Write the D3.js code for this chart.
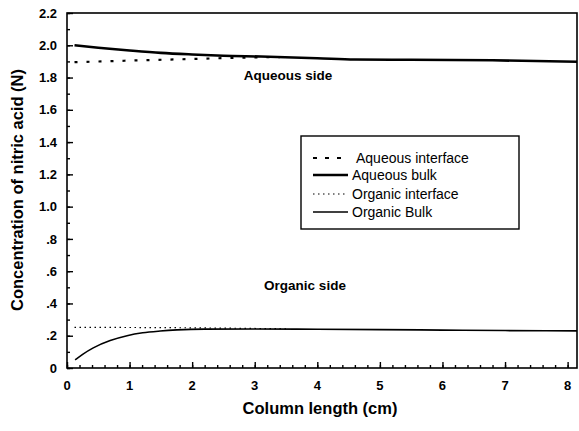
<!DOCTYPE html>
<html><head><meta charset="utf-8">
<script src="https://cdn.jsdelivr.net/npm/d3@7"></script>
<style>
body{margin:0;background:#fff;}
text{font-family:"Liberation Sans",Arial,sans-serif;fill:#000;}
</style></head>
<body><svg id="c" width="579" height="431"></svg>
<script>
// Data
const aqueousBulkX = [0.12, 0.5, 1.0, 1.5, 2.0, 2.5, 3.1, 4.0, 4.6, 5.5, 6.8, 8.15];
const aqueousBulkY = [2.0, 1.985, 1.968, 1.953, 1.943, 1.935, 1.93, 1.92, 1.912, 1.91, 1.907, 1.898];
const aqueousIntX = [0.12, 1.0, 2.0, 3.0, 3.4];
const aqueousIntY = [1.895, 1.905, 1.915, 1.925, 1.927];
const organicBulkX = [0.13, 0.25, 0.42, 0.69, 0.96, 1.21, 1.49, 1.76, 2.2, 3.0, 4.0, 5.0, 6.0, 7.0, 8.15];
const organicBulkY = [0.05, 0.085, 0.125, 0.17, 0.2, 0.218, 0.229, 0.236, 0.241, 0.242, 0.24, 0.238, 0.235, 0.232, 0.23];
const organicIntX = [0.12, 1.0, 2.0, 3.0, 3.5];
const organicIntY = [0.252, 0.251, 0.249, 0.245, 0.243];
const xTickValues = [0, 1, 2, 3, 4, 5, 6, 7, 8];
const yTickValues = [0, 0.2, 0.4, 0.6, 0.8, 1.0, 1.2, 1.4, 1.6, 1.8, 2.0, 2.2];
const yTickLabels = ["0", ".2", ".4", ".6", ".8", "1.0", "1.2", "1.4", "1.6", "1.8", "2.0", "2.2"];
const legendLabels = ["Aqueous interface", "Aqueous bulk", "Organic interface", "Organic Bulk"];

const svg = d3.select("#c");
const L = 67, R = 577, T = 13, B = 368;
const x = d3.scaleLinear().domain([0, 8.15]).range([L, R]);
const y = d3.scaleLinear().domain([0, 2.2]).range([B, T]);

const styles = [
  {w: 2.2, dash: "3,9"},
  {w: 2.6, dash: null},
  {w: 1.2, dash: "1.5,3.5"},
  {w: 1.6, dash: null}
];

// frame
svg.append("rect").attr("x", L).attr("y", T).attr("width", R - L).attr("height", B - T)
  .attr("fill", "none").attr("stroke", "#000").attr("stroke-width", 1.6);

// axes with inward ticks
const yMinor = d3.range(0, 2.21, 0.1);
const xMinor = d3.range(0, 8.01, 0.2);
const gy = svg.append("g").attr("transform", `translate(${L},0)`);
gy.call(d3.axisRight(y).tickValues(yMinor).tickSize(3).tickFormat(""));
gy.select(".domain").remove();
const gyM = svg.append("g").attr("transform", `translate(${L},0)`);
gyM.call(d3.axisRight(y).tickValues(yTickValues).tickSize(6).tickFormat(""));
gyM.select(".domain").remove();

const gx = svg.append("g").attr("transform", `translate(0,${B})`);
gx.call(d3.axisTop(x).tickValues(xMinor).tickSize(3).tickFormat(""));
gx.select(".domain").remove();
const gxM = svg.append("g").attr("transform", `translate(0,${B})`);
gxM.call(d3.axisTop(x).tickValues(xTickValues).tickSize(6).tickFormat(""));
gxM.select(".domain").remove();
svg.selectAll(".tick line").attr("stroke-width", 1.4);

// tick labels
svg.append("g").selectAll("text").data(yTickValues).join("text")
  .attr("x", 57).attr("y", d => y(d)).attr("dy", "0.36em")
  .attr("text-anchor", "end").attr("font-size", 13).attr("font-weight", "bold")
  .text((d, i) => yTickLabels[i]);
svg.append("g").selectAll("text").data(xTickValues).join("text")
  .attr("x", d => x(d)).attr("y", 390)
  .attr("text-anchor", "middle").attr("font-size", 13).attr("font-weight", "bold")
  .text(d => d);

// axis titles
svg.append("text").attr("x", 320).attr("y", 414).attr("text-anchor", "middle")
  .attr("font-size", 16.5).attr("font-weight", "bold").text("Column length (cm)");
svg.append("text").attr("transform", "translate(23,190) rotate(-90)").attr("text-anchor", "middle")
  .attr("font-size", 16.5).attr("font-weight", "bold").text("Concentration of nitric acid (N)");

// lines
const line = d3.line().x(d => x(d[0])).y(d => y(d[1])).curve(d3.curveMonotoneX);
const series = [
  d3.zip(aqueousIntX, aqueousIntY),
  d3.zip(aqueousBulkX, aqueousBulkY),
  d3.zip(organicIntX, organicIntY),
  d3.zip(organicBulkX, organicBulkY)
];
series.forEach((s, i) => {
  svg.append("path").attr("d", line(s)).attr("fill", "none").attr("stroke", "#000")
    .attr("stroke-width", styles[i].w).attr("stroke-dasharray", styles[i].dash);
});

// annotations
svg.append("text").attr("x", 288).attr("y", 80).attr("text-anchor", "middle")
  .attr("font-size", 13.5).attr("font-weight", "bold").text("Aqueous side");
svg.append("text").attr("x", 305).attr("y", 290).attr("text-anchor", "middle")
  .attr("font-size", 13.5).attr("font-weight", "bold").text("Organic side");

// legend
const lg = svg.append("g");
lg.append("rect").attr("x", 301).attr("y", 136).attr("width", 218).attr("height", 93)
  .attr("fill", "#fff").attr("stroke", "#000").attr("stroke-width", 1.4);
const ly = [158, 175, 194, 212];
legendLabels.forEach((t, i) => {
  lg.append("line").attr("x1", 313).attr("x2", 348).attr("y1", ly[i]).attr("y2", ly[i])
    .attr("stroke", "#000").attr("stroke-width", styles[i].w)
    .attr("stroke-dasharray", i === 0 ? "4,8" : styles[i].dash);
  lg.append("text").attr("x", i === 0 ? 356 : 352).attr("y", ly[i]).attr("dy", "0.35em")
    .attr("font-size", 14).text(t);
});
</script></body></html>
